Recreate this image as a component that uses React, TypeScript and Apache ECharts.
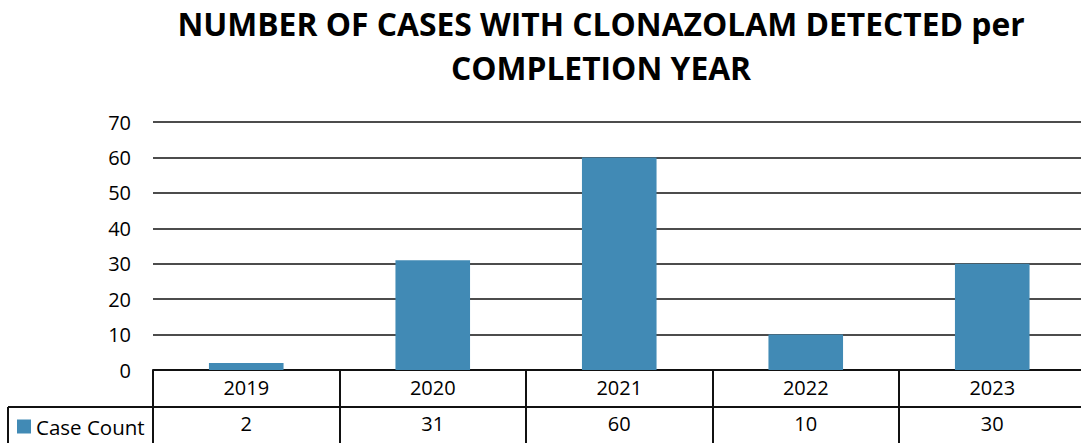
import React, { useEffect, useRef } from "react";
import * as echarts from "echarts";

const years = ["2019", "2020", "2021", "2022", "2023"];
const caseCounts = [2, 31, 60, 10, 30];
const yMin = 0;
const yMax = 70;
const yInterval = 10;
const seriesName = "Case Count";
const titleLines = ["NUMBER OF CASES WITH CLONAZOLAM DETECTED per", "COMPLETION YEAR"];

export default function App() {
  const ref = useRef<HTMLDivElement>(null);
  useEffect(() => {
    document.body.style.margin = "0";
    const chart = echarts.init(ref.current!, null, { renderer: "svg" });
    const font = "'Open Sans', 'Noto Sans', sans-serif";
    const GL = 153, GT = 122, GB = 370, CW = 186.5;
    const lineStyle = { color: "#111", width: 2 };
    chart.setOption({
      animation: false,
      graphic: [
        ...titleLines.map((t, i) => ({
          type: "text",
          x: 601,
          y: 23 + i * 44,
          style: {
            text: t,
            fontFamily: font,
            fontWeight: "bold",
            fontSize: 31.8,
            fill: "#000",
            textAlign: "center",
            textVerticalAlign: "middle",
          },
        })),
        { type: "line", shape: { x1: 8, y1: 407, x2: GL, y2: 407 }, style: { stroke: "#111", lineWidth: 2 } },
        { type: "line", shape: { x1: 8, y1: 407, x2: 8, y2: 443 }, style: { stroke: "#111", lineWidth: 2 } },
      ],
      legend: {
        data: [seriesName],
        left: 17,
        top: 416,
        padding: 0,
        itemWidth: 14,
        itemHeight: 14,
        itemGap: 5,
        icon: "rect",
        textStyle: { fontFamily: font, fontSize: 20.5, color: "#000", padding: [0, 0, 0, 0] },
      },
      grid: { left: GL, top: GT, width: CW * 5, height: GB - GT, outerBoundsMode: "none" },
      xAxis: [
        {
          type: "category",
          data: years,
          position: "bottom",
          axisLine: { lineStyle },
          axisTick: { show: true, length: 73, lineStyle },
          axisLabel: { margin: 7, fontFamily: font, fontSize: 20, color: "#000" },
        },
        {
          type: "category",
          data: years,
          position: "bottom",
          offset: 37,
          axisLine: { lineStyle },
          axisTick: { show: false },
          axisLabel: {
            margin: 6,
            fontFamily: font,
            fontSize: 20,
            color: "#000",
            formatter: (_v: string, i: number) => String(caseCounts[i]),
          },
        },
      ],
      yAxis: {
        type: "value",
        min: yMin,
        max: yMax,
        interval: yInterval,
        axisLine: { show: false },
        axisTick: { show: false },
        axisLabel: { margin: 22, fontFamily: font, fontSize: 20, color: "#000" },
        splitLine: { lineStyle: { color: "#111", width: 1.5 } },
      },
      series: [
        {
          type: "bar",
          name: seriesName,
          data: caseCounts,
          barWidth: "40%",
          itemStyle: { color: "#418AB5" },
        },
      ],
    });
    return () => chart.dispose();
  }, []);
  return <div ref={ref} style={{ width: 1081, height: 443 }} />;
}
